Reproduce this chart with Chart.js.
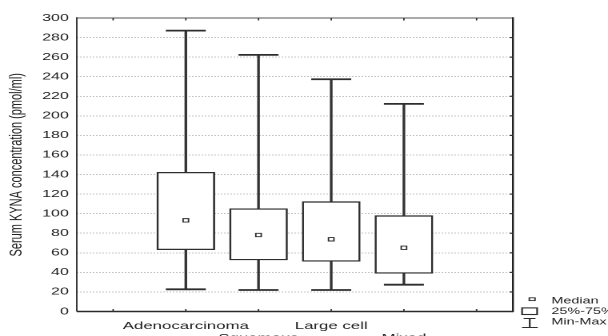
<!DOCTYPE html>
<html>
<head>
<meta charset="utf-8">
<script src="https://cdn.jsdelivr.net/npm/chart.js@4/dist/chart.umd.min.js"></script>
<style>
  html, body { margin: 0; padding: 0; overflow: hidden; background: #fff; }
  /* the reference is stretched sideways, so the chart is drawn narrow and widened */
  #wrap { width: 380px; height: 352px; transform: scaleX(1.6); transform-origin: 0 0; }
</style>
</head>
<body>
<div id="wrap"><canvas id="chart"></canvas></div>
<script>
const categories = ['Adenocarcinoma', 'Squamous', 'Large cell', 'Mixed'];
const minVals = [22.7, 22, 22, 27.4];
const q1Vals = [63.2, 52.7, 51.3, 39];
const medianVals = [93.2, 78.2, 73.8, 65.2];
const q3Vals = [142.3, 105.1, 112.3, 98];
const maxVals = [287.1, 262.3, 237.4, 212.2];
const yTicks = { min: 0, max: 300, step: 20 };
const legendLabels = ['Median', '25%-75%', 'Min-Max'];

// empty slot on each side, labels alternate between two rows
const labels = [''].concat(categories.map((c, i) => i % 2 === 0 ? [c, ''] : ['', c]), ['']);
const pad = arr => [null].concat(arr, [null]);

const ink = '#2e2e2e';

const framePlugin = {
    id: 'frame',
    afterDraw(chart) {
        const { ctx, chartArea: a, scales: { x, y } } = chart;
        ctx.save();
        ctx.lineCap = 'butt';
        // frame
        ctx.strokeStyle = '#8e8e8e'; ctx.lineWidth = 1.6;
        ctx.beginPath(); ctx.moveTo(a.left, a.top); ctx.lineTo(a.right, a.top); ctx.stroke();
        ctx.strokeStyle = '#3a3a3a'; ctx.lineWidth = 1;
        ctx.beginPath(); ctx.moveTo(a.left, a.top - 0.8); ctx.lineTo(a.left, a.bottom); ctx.stroke();
        ctx.strokeStyle = '#222'; ctx.lineWidth = 1.2;
        ctx.beginPath(); ctx.moveTo(a.right, a.top - 0.8); ctx.lineTo(a.right, a.bottom + 0.6); ctx.stroke();
        ctx.strokeStyle = '#2a2a2a'; ctx.lineWidth = 1.4;
        ctx.beginPath(); ctx.moveTo(a.left, a.bottom); ctx.lineTo(a.right, a.bottom); ctx.stroke();
        // inward ticks
        ctx.lineWidth = 0.9; ctx.strokeStyle = '#333';
        for (let i = 0; i < labels.length; i++) {
            const px = x.getPixelForValue(i);
            ctx.beginPath(); ctx.moveTo(px, a.bottom); ctx.lineTo(px, a.bottom - 2.5); ctx.stroke();
            ctx.beginPath(); ctx.moveTo(px, a.top); ctx.lineTo(px, a.top + 2.5); ctx.stroke();
        }
        ctx.lineWidth = 1.2;
        for (let v = yTicks.min + yTicks.step; v < yTicks.max; v += yTicks.step) {
            const py = y.getPixelForValue(v);
            ctx.beginPath(); ctx.moveTo(a.right, py); ctx.lineTo(a.right - 2, py); ctx.stroke();
        }
        // legend
        const lx = a.right + 12, tx = a.right + 24, b = a.bottom;
        ctx.strokeStyle = ink; ctx.fillStyle = '#fff'; ctx.lineWidth = 0.9;
        ctx.fillRect(lx - 1.8, b - 13.7, 3.6, 2.8); ctx.strokeRect(lx - 1.8, b - 13.7, 3.6, 2.8);
        ctx.lineWidth = 1.1;
        ctx.strokeRect(lx - 6.3, b - 3.6, 9.4, 6.6);
        ctx.beginPath();
        ctx.moveTo(lx - 5.3, b + 7); ctx.lineTo(lx + 2.1, b + 7);
        ctx.moveTo(lx - 1.5, b + 7); ctx.lineTo(lx - 1.5, b + 16);
        ctx.moveTo(lx - 6.3, b + 16); ctx.lineTo(lx + 3.5, b + 16);
        ctx.stroke();
        ctx.fillStyle = '#222';
        ctx.font = '9px "Liberation Sans", Arial, sans-serif';
        ctx.textBaseline = 'middle'; ctx.textAlign = 'left';
        legendLabels.forEach((t, i) => ctx.fillText(t, tx, b - 10.5 + i * 10.5));
        ctx.restore();
    }
};

new Chart(document.getElementById('chart'), {
    type: 'bar',
    data: {
        labels: labels,
        datasets: [
            {
                label: 'whisker',
                data: pad(minVals.map((v, i) => [v, maxVals[i]])),
                backgroundColor: '#333',
                borderWidth: 0,
                barThickness: 1,
                grouped: false,
                order: 3
            },
            {
                label: 'box',
                data: pad(q1Vals.map((v, i) => [v, q3Vals[i]])),
                backgroundColor: '#fff',
                borderColor: ink,
                borderWidth: 1.3,
                borderSkipped: false,
                barThickness: 36,
                grouped: false,
                order: 2
            },
            {
                type: 'line',
                label: 'max',
                data: pad(maxVals),
                showLine: false,
                pointStyle: 'line',
                pointRadius: 12.5,
                pointBorderWidth: 1.8,
                pointBorderColor: ink,
                order: 1
            },
            {
                type: 'line',
                label: 'min',
                data: pad(minVals),
                showLine: false,
                pointStyle: 'line',
                pointRadius: 12.5,
                pointBorderWidth: 1.8,
                pointBorderColor: ink,
                order: 1
            },
            {
                type: 'line',
                label: 'median',
                data: pad(medianVals),
                showLine: false,
                pointStyle: 'rect',
                pointRadius: 2.4,
                pointBorderWidth: 0.9,
                pointBorderColor: ink,
                pointBackgroundColor: '#fff',
                order: 0
            }
        ]
    },
    options: {
        responsive: true,
        maintainAspectRatio: false,
        animation: false,
        devicePixelRatio: 2,
        layout: { padding: { top: 18, right: 59.4, left: 0, bottom: 0 } },
        plugins: { legend: { display: false }, tooltip: { enabled: false } },
        events: [],
        scales: {
            x: {
                grid: { display: false },
                border: { display: false },
                ticks: {
                    autoSkip: false, maxRotation: 0, padding: 0.5, color: '#222',
                    font: { family: '"Liberation Sans", Arial, sans-serif', size: 10.5, lineHeight: 1.15 }
                },
                afterFit: s => { s.height = 40.5; }
            },
            y: {
                min: yTicks.min, max: yTicks.max,
                grid: { color: '#c4c4c4', lineWidth: 1, drawTicks: false },
                border: { display: false, dash: [1, 1] },
                ticks: {
                    stepSize: yTicks.step, padding: 5, color: '#222',
                    font: { family: '"Liberation Sans", Arial, sans-serif', size: 10 }
                },
                title: {
                    display: true, text: 'Serum KYNA concentration (pmol/ml)', color: '#222',
                    font: { family: '"Liberation Sans", Arial, sans-serif', size: 11 }
                },
                afterFit: s => { s.width = 48; }
            }
        }
    },
    plugins: [framePlugin]
});
</script>
</body>
</html>
